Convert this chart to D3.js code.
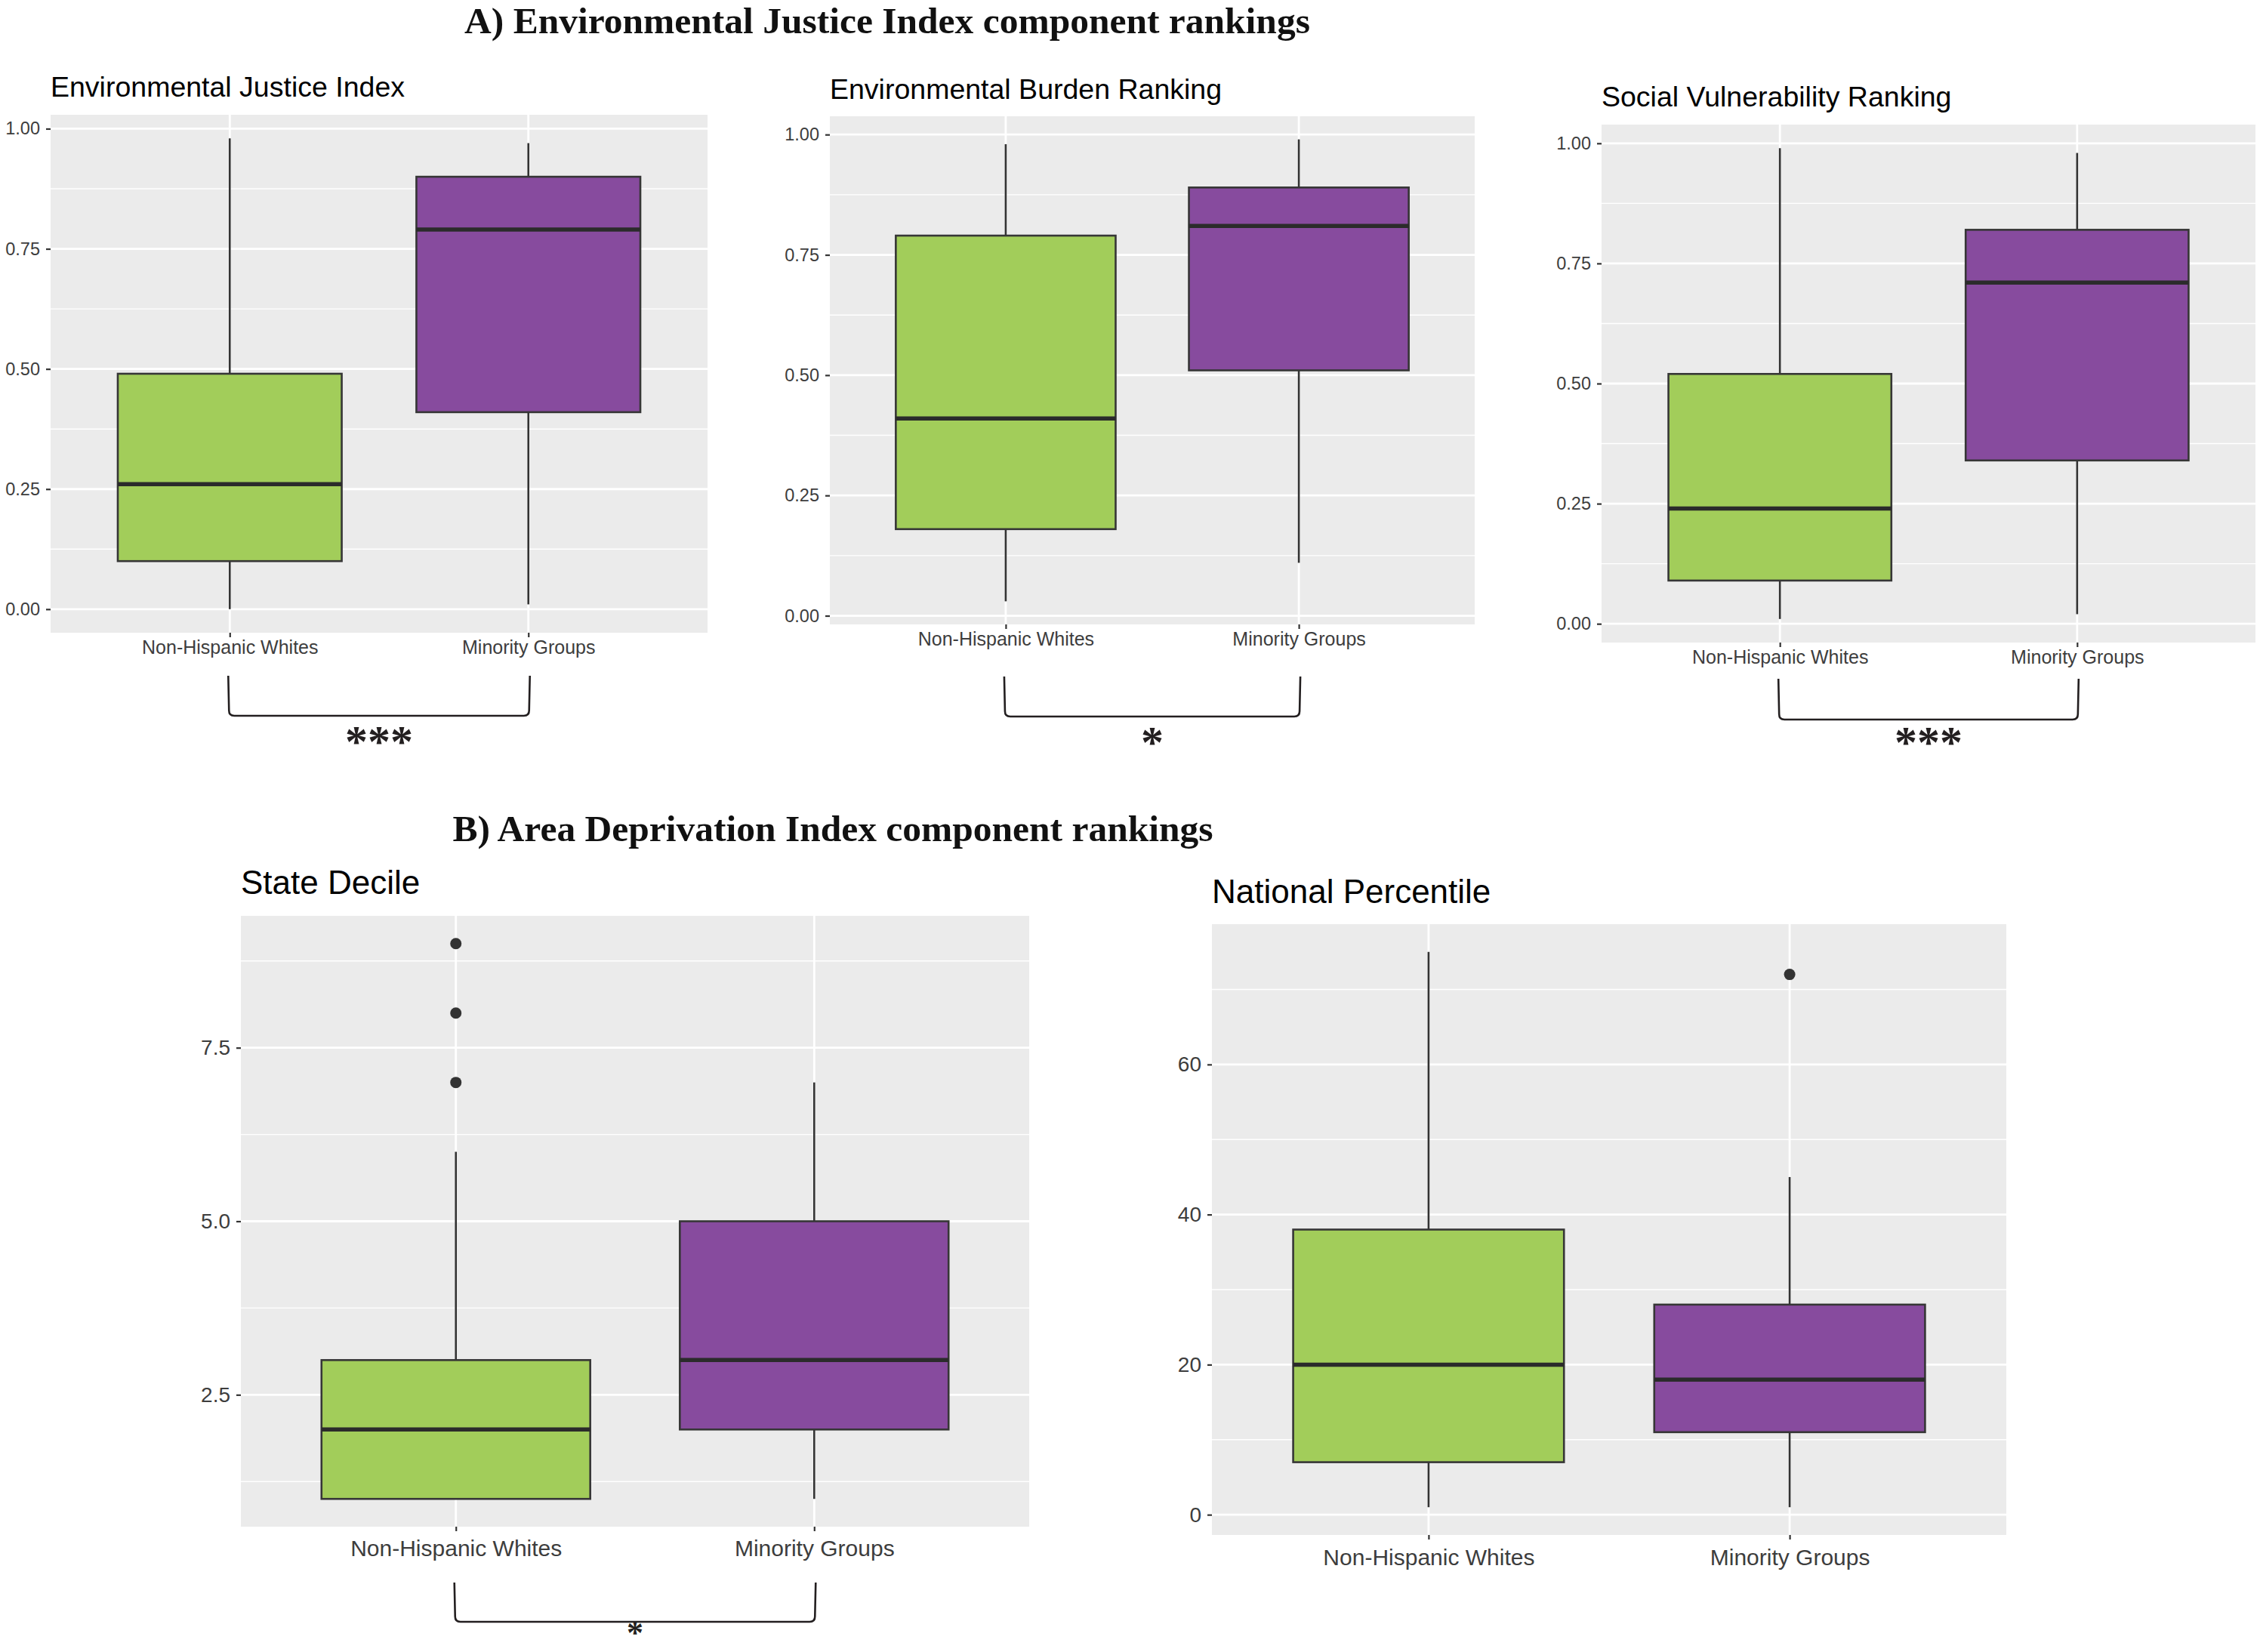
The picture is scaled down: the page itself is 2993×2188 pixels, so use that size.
<!DOCTYPE html>
<html><head><meta charset="utf-8">
<script src="https://cdn.jsdelivr.net/npm/d3@7"></script>
<style>body{margin:0;background:#fff}</style>
</head><body>
<svg id="c" width="2993" height="2188" xmlns="http://www.w3.org/2000/svg"></svg>
<script>
// ---------- DATA ----------
const categories = ["Non-Hispanic Whites", "Minority Groups"];
const sectionTitles = ["A) Environmental Justice Index component rankings", "B) Area Deprivation Index component rankings"];
const panelTitles = ["Environmental Justice Index", "Environmental Burden Ranking", "Social Vulnerability Ranking", "State Decile", "National Percentile"];
// each group: [lower whisker, Q1, median, Q3, upper whisker]
const ejiStats   = [[0.00, 0.10, 0.26, 0.49, 0.98], [0.01, 0.41, 0.79, 0.90, 0.97]];
const ebrStats   = [[0.03, 0.18, 0.41, 0.79, 0.98], [0.11, 0.51, 0.81, 0.89, 0.99]];
const svrStats   = [[0.01, 0.09, 0.24, 0.52, 0.99], [0.02, 0.34, 0.71, 0.82, 0.98]];
const stateStats = [[1, 1, 2, 3, 6], [1, 2, 3, 5, 7]];
const natStats   = [[1, 7, 20, 38, 75], [1, 11, 18, 28, 45]];
const noOutliers    = [[], []];
const stateOutliers = [[7, 8, 9], []];
const natOutliers   = [[], [72]];
const rankTicks  = [0, 0.25, 0.50, 0.75, 1.00];
const stateTicks = [2.5, 5.0, 7.5];
const natTicks   = [0, 20, 40, 60];
const significance = ["***", "*", "***", "*", ""];

// ---------- LAYOUT ----------
const W = 2993, H = 2188;
const fills = ["#a2cd5a", "#874b9e"];
const layouts = [
  {x0: 67,   x1: 937,  y0: 152,  y1: 838,  titleY: 128,  labelY: 857,  bTop: 895,  bBot: 948,  starBase: 1002, starSize: 60, sz: "A"},
  {x0: 1099, x1: 1953, y0: 154,  y1: 827,  titleY: 131,  labelY: 846,  bTop: 896,  bBot: 949,  starBase: 1003, starSize: 60, sz: "A"},
  {x0: 2121, x1: 2987, y0: 165,  y1: 851,  titleY: 141,  labelY: 870,  bTop: 899,  bBot: 953,  starBase: 1003, starSize: 60, sz: "A"},
  {x0: 319,  x1: 1363, y0: 1213, y1: 2022, titleY: 1184, labelY: 2050, bTop: 2096, bBot: 2148, starBase: 2177, starSize: 44, sz: "B"},
  {x0: 1605, x1: 2657, y0: 1224, y1: 2033, titleY: 1196, labelY: 2062, bTop: 0,    bBot: 0,    starBase: 0,    starSize: 0,  sz: "B"}
];
const fonts = {
  A: {title: 37.5, tick: 23.5, cat: 25},
  B: {title: 44, tick: 28, cat: 30}
};
const panels = [
  {stats: ejiStats,   outliers: noOutliers,    ticks: rankTicks,  fmt: d3.format(".2f")},
  {stats: ebrStats,   outliers: noOutliers,    ticks: rankTicks,  fmt: d3.format(".2f")},
  {stats: svrStats,   outliers: noOutliers,    ticks: rankTicks,  fmt: d3.format(".2f")},
  {stats: stateStats, outliers: stateOutliers, ticks: stateTicks, fmt: d3.format(".1f")},
  {stats: natStats,   outliers: natOutliers,   ticks: natTicks,   fmt: d3.format("d")}
];

const svg = d3.select("#c");
svg.append("rect").attr("width", W).attr("height", H).attr("fill", "#fff");

const sans = "'Liberation Sans', Arial, Helvetica, sans-serif";
const serif = "'Liberation Serif', 'Times New Roman', serif";

// section titles
svg.append("text").attr("x", 1175).attr("y", 44).attr("text-anchor", "middle")
  .attr("font-family", serif).attr("font-weight", "bold").attr("font-size", 49.5).attr("fill", "#111")
  .text(sectionTitles[0]);
svg.append("text").attr("x", 1103).attr("y", 1114).attr("text-anchor", "middle")
  .attr("font-family", serif).attr("font-weight", "bold").attr("font-size", 49.5).attr("fill", "#111")
  .text(sectionTitles[1]);

panels.forEach((p, i) => {
  const L = layouts[i];
  const F = fonts[L.sz];
  const all = p.stats.flat().concat(p.outliers.flat());
  const [lo, hi] = d3.extent(all);
  const pad = (hi - lo) * 0.05;
  const y = d3.scaleLinear().domain([lo - pad, hi + pad]).range([L.y1, L.y0]);
  const x = d3.scalePoint().domain(categories).range([L.x0, L.x1]).padding(0.6);
  const bw = x.step() * 0.75;
  const g = svg.append("g");

  // title
  g.append("text").attr("x", L.x0).attr("y", L.titleY)
    .attr("font-family", sans).attr("font-size", F.title).attr("fill", "#000")
    .text(panelTitles[i]);

  // background
  g.append("rect").attr("x", L.x0).attr("y", L.y0).attr("width", L.x1 - L.x0).attr("height", L.y1 - L.y0)
    .attr("fill", "#ebebeb");

  // minor grid
  const step = p.ticks[1] - p.ticks[0];
  const dom = y.domain();
  const minors = [p.ticks[0] - step / 2].concat(p.ticks.map(v => v + step / 2))
    .filter(v => v > dom[0] && v < dom[1]);
  g.selectAll(".minor").data(minors).join("line")
    .attr("x1", L.x0).attr("x2", L.x1).attr("y1", d => y(d)).attr("y2", d => y(d))
    .attr("stroke", "#fff").attr("stroke-width", 1.4);
  // major grid
  g.selectAll(".major").data(p.ticks).join("line")
    .attr("x1", L.x0).attr("x2", L.x1).attr("y1", d => y(d)).attr("y2", d => y(d))
    .attr("stroke", "#fff").attr("stroke-width", 2.8);
  g.selectAll(".vmajor").data(categories).join("line")
    .attr("x1", d => x(d)).attr("x2", d => x(d)).attr("y1", L.y0).attr("y2", L.y1)
    .attr("stroke", "#fff").attr("stroke-width", 2.8);

  // axes
  const ya = g.append("g").attr("transform", `translate(${L.x0},0)`)
    .call(d3.axisLeft(y).tickValues(p.ticks).tickFormat(p.fmt).tickSize(6).tickPadding(8));
  ya.select(".domain").remove();
  ya.selectAll(".tick line").attr("stroke", "#333").attr("stroke-width", 2.2);
  ya.selectAll(".tick text").attr("font-family", sans).attr("font-size", F.tick).attr("fill", "#3d3d3d");

  const xa = g.append("g").attr("transform", `translate(0,${L.y1})`)
    .call(d3.axisBottom(x).tickSize(6).tickPadding(8));
  xa.select(".domain").remove();
  xa.selectAll(".tick line").attr("stroke", "#333").attr("stroke-width", 2.2);
  xa.selectAll(".tick text").attr("font-family", sans).attr("font-size", F.cat).attr("fill", "#3d3d3d")
    .attr("y", L.labelY - L.y1 + F.cat * 0.36).attr("dy", 0);

  // boxes
  p.stats.forEach((s, k) => {
    const cx = x(categories[k]);
    const [wl, q1, md, q3, wh] = s;
    g.append("line").attr("x1", cx).attr("x2", cx).attr("y1", y(q3)).attr("y2", y(wh))
      .attr("stroke", "#333").attr("stroke-width", 2.6);
    g.append("line").attr("x1", cx).attr("x2", cx).attr("y1", y(q1)).attr("y2", y(wl))
      .attr("stroke", "#333").attr("stroke-width", 2.6);
    g.append("rect").attr("x", cx - bw / 2).attr("y", y(q3)).attr("width", bw).attr("height", y(q1) - y(q3))
      .attr("fill", fills[k]).attr("stroke", "#363636").attr("stroke-width", 2.6);
    g.append("line").attr("x1", cx - bw / 2).attr("x2", cx + bw / 2).attr("y1", y(md)).attr("y2", y(md))
      .attr("stroke", "#2b2b2b").attr("stroke-width", 5.5);
    g.selectAll(null).data(p.outliers[k]).join("circle")
      .attr("cx", cx).attr("cy", d => y(d)).attr("r", 7.5).attr("fill", "#333");
  });

  // significance bracket
  if (significance[i]) {
    const xl = x(categories[0]) - 2, xr = x(categories[1]) + 2, r = 7;
    g.append("path")
      .attr("d", `M${xl},${L.bTop} L${xl + 1},${L.bBot - r} Q${xl + 1},${L.bBot} ${xl + 1 + r},${L.bBot} L${xr - 1 - r},${L.bBot} Q${xr - 1},${L.bBot} ${xr - 1},${L.bBot - r} L${xr},${L.bTop}`)
      .attr("fill", "none").attr("stroke", "#231f20").attr("stroke-width", 2.6);
    g.append("text").attr("x", (xl + xr) / 2).attr("y", L.starBase).attr("text-anchor", "middle")
      .attr("font-family", serif).attr("font-weight", "bold").attr("font-size", L.starSize).attr("fill", "#231f20")
      .text(significance[i]);
  }
});
</script>
</body></html>
